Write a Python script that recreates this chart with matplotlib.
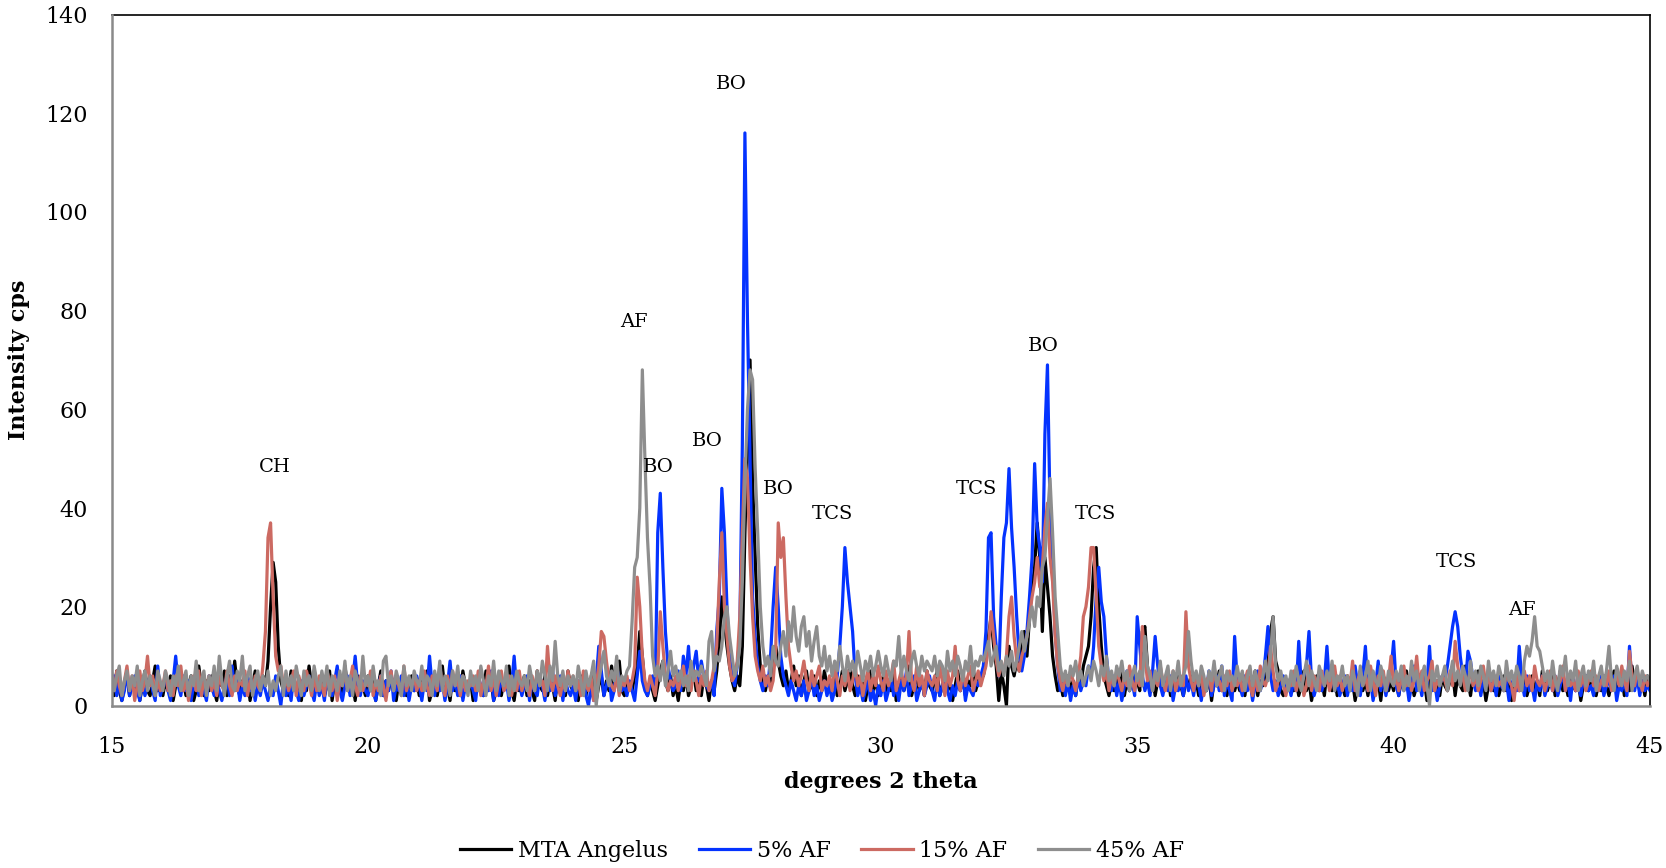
import numpy as np
import matplotlib
matplotlib.use("Agg")
import matplotlib.pyplot as plt

plt.rcParams['font.family'] = ['DejaVu Serif']

# ---------------- data ----------------
two_theta_start = 15.0
two_theta_step = 0.05
x_ticks = [15, 20, 25, 30, 35, 40, 45]
y_ticks = [0, 20, 40, 60, 80, 100, 120, 140]
series_names = ["MTA Angelus", "5% AF", "15% AF", "45% AF"]

# intensities (cps) at 0.05 deg steps, one row per degree (15.00 .. 44.95), plus final 45.00 value
mta_angelus = [
    [5,2,7,3,1,4,6,2,5,3,6,1,4,7,3,2,5,8,3,4],
    [2,5,3,6,1,4,7,3,5,2,4,6,1,3,8,4,2,5,3,6],
    [3,1,5,4,7,2,6,3,9,4,2,5,3,6,1,4,7,3,5,6],
    [4,9,20,29,25,12,5,3,6,2,7,4,3,5,1,6,3,8,4,2],
    [5,3,6,2,4,7,1,5,3,6,2,8,4,3,5,1,6,3,4,2],
    [6,3,5,1,4,7,2,5,3,6,4,1,5,3,7,2,4,6,3,5],
    [2,5,4,7,1,3,6,2,5,8,3,4,1,6,3,5,2,7,4,3],
    [5,1,4,6,3,2,7,4,5,1,3,6,2,5,4,8,3,1,5,3],
    [4,6,2,5,3,1,7,4,3,6,2,5,4,1,6,3,5,2,7,4],
    [3,5,1,6,4,2,5,3,7,1,4,6,2,5,3,8,4,6,9,3],
    [2,5,4,3,6,8,15,10,4,2,5,3,1,4,7,9,5,3,6,2],
    [4,1,5,3,6,2,4,7,3,5,2,6,4,1,5,3,7,13,22,17],
    [12,8,5,3,6,4,12,35,52,70,45,30,16,8,5,3,6,4,8,12],
    [9,6,4,7,3,5,8,4,6,2,5,7,3,4,6,2,5,3,7,4],
    [5,3,6,2,4,7,3,5,8,4,2,6,3,5,1,4,7,3,5,2],
    [4,6,2,5,3,7,1,4,6,3,5,8,2,4,6,3,5,2,7,4],
    [3,5,7,2,4,6,3,5,1,4,7,3,6,2,5,4,8,3,5,6],
    [6,9,14,18,12,8,1,7,4,0,12,8,6,9,7,12,15,10,18,24],
    [28,37,30,15,30,24,18,10,6,3,5,2,4,6,3,5,2,6,4,8],
    [10,12,18,28,32,20,12,6,4,2,5,3,6,4,7,2,5,3,6,4],
    [5,3,15,16,8,4,6,2,5,7,3,4,6,2,5,3,7,4,2,5],
    [4,6,3,5,2,7,4,3,6,1,5,4,7,3,5,2,6,4,3,5],
    [3,5,2,6,4,3,7,2,5,4,6,8,15,18,9,7,3,2,5,4],
    [6,3,5,2,4,7,3,5,1,4,6,3,5,2,7,4,3,6,2,5],
    [4,2,6,3,5,1,4,7,3,5,2,6,4,3,5,1,6,4,3,5],
    [3,6,2,5,4,7,3,5,2,4,6,3,5,1,4,7,3,5,2,6],
    [4,3,5,7,2,6,4,3,8,5,2,6,4,7,3,5,1,4,6,3],
    [5,2,4,6,3,5,1,4,7,3,5,6,2,4,6,3,5,2,7,4],
    [3,5,6,2,4,7,3,5,2,6,4,3,5,1,4,6,3,5,7,2],
    [5,3,6,4,2,5,7,3,4,6,2,5,3,8,4,6,3,5,2,6],
    [4],
]

af_5 = [
    [4,6,2,5,1,3,7,2,4,6,3,1,5,2,4,6,3,1,8,2],
    [4,6,3,1,5,10,4,2,6,3,5,1,4,7,2,5,3,1,6,4],
    [2,5,3,1,4,6,2,8,3,5,1,4,2,6,3,5,1,4,2,5],
    [3,1,4,2,6,3,0,5,2,4,1,6,3,1,5,2,4,6,3,1],
    [5,2,4,1,6,3,2,5,8,3,1,4,6,2,5,10,4,2,5,3],
    [2,5,3,1,4,6,2,5,3,7,1,4,3,6,2,5,1,4,3,6],
    [4,1,5,3,10,4,2,6,3,5,1,4,9,3,5,2,6,1,4,3],
    [5,3,1,6,4,2,5,3,7,1,4,2,6,3,5,1,4,10,3,5],
    [2,4,6,1,5,3,2,6,4,1,5,3,7,2,4,6,1,5,3,2],
    [4,1,5,3,6,2,0,4,1,5,12,7,2,4,6,1,3,8,5,3],
    [4,2,5,3,1,6,11,5,3,2,4,6,3,35,43,28,15,8,5,3],
    [4,7,3,10,6,12,4,8,11,5,9,6,4,3,5,2,15,22,44,35],
    [20,10,6,4,8,14,53,116,78,50,22,14,8,5,3,6,4,10,20,28],
    [20,10,6,4,2,5,3,1,4,2,5,1,3,6,2,4,1,3,5,2],
    [4,1,3,6,12,20,32,25,20,15,6,2,4,1,3,5,1,3,0,4],
    [2,5,1,3,6,2,4,1,5,3,7,2,4,6,1,3,5,2,4,6],
    [3,1,5,2,4,6,3,1,4,2,5,3,6,1,4,3,2,5,4,6],
    [8,15,34,35,18,12,6,22,34,37,48,36,28,18,10,7,10,15,22,30],
    [49,36,32,25,55,69,40,28,15,8,3,6,2,5,1,4,2,6,3,5],
    [4,8,6,12,22,28,21,18,10,5,3,6,2,5,1,4,7,3,5,2],
    [18,12,6,3,5,2,7,14,8,4,2,5,3,6,1,4,3,5,2,6],
    [3,5,2,6,4,1,5,3,7,2,4,6,3,8,2,5,3,1,14,5],
    [4,2,6,3,5,1,4,7,3,5,10,16,6,3,5,2,4,6,3,5],
    [2,5,3,13,4,6,8,15,5,2,4,6,3,5,12,4,7,3,5,2],
    [4,6,2,5,3,8,4,2,6,12,3,5,1,4,9,3,6,2,5,7],
    [13,4,2,6,3,5,1,4,8,3,5,2,6,4,12,3,5,1,4,6],
    [5,8,12,16,19,16,10,6,4,11,9,5,3,6,2,5,4,7,3,5],
    [2,6,4,3,5,1,4,6,3,12,5,2,6,3,4,1,5,3,6,2],
    [4,5,3,6,2,4,7,3,5,1,6,3,4,2,5,6,3,4,2,5],
    [3,6,2,4,5,3,6,1,4,3,5,2,12,4,3,6,2,5,3,4],
    [3],
]

af_15 = [
    [6,3,7,4,2,5,8,3,6,1,4,7,3,5,10,4,6,2,5,3],
    [4,7,3,5,2,6,4,8,3,5,1,4,6,3,7,2,5,4,6,3],
    [5,2,6,4,3,7,4,2,6,3,5,4,7,2,5,3,6,4,3,8],
    [15,34,37,22,10,7,8,4,6,3,5,7,2,6,4,3,7,5,2,6],
    [3,6,4,2,7,5,3,6,1,5,4,7,3,5,8,4,2,6,3,5],
    [4,7,2,5,3,6,4,1,5,7,3,6,4,2,8,3,5,4,6,3],
    [5,3,7,4,2,6,5,3,8,4,2,6,3,7,4,5,2,6,3,5],
    [4,6,3,7,2,5,4,8,3,6,2,5,7,3,4,6,2,5,3,7],
    [3,5,4,2,6,3,7,4,5,2,12,5,3,6,4,2,5,3,7,4],
    [6,3,5,2,7,4,3,6,1,4,8,15,14,9,5,4,3,6,2,5],
    [4,6,3,5,8,26,20,10,5,3,6,4,2,7,19,12,6,3,5,4],
    [6,3,5,8,4,6,3,7,5,2,6,4,7,3,5,8,12,25,35,20],
    [14,8,5,6,9,18,35,50,46,30,18,10,7,5,8,4,6,3,5,11],
    [37,30,34,22,12,8,5,7,4,6,9,5,3,7,4,6,8,3,5,4],
    [6,3,8,5,2,6,4,7,3,5,8,4,6,2,5,7,3,6,4,8],
    [5,3,7,4,6,9,3,5,7,4,6,15,5,3,8,4,6,2,7,5],
    [4,6,3,8,5,2,7,4,6,12,5,3,7,4,6,8,3,5,7,4],
    [6,8,12,19,14,9,6,8,7,10,18,22,14,9,7,10,12,14,18,22],
    [25,30,24,28,36,41,30,25,14,8,5,3,6,4,7,5,3,6,10,18],
    [20,24,32,32,22,12,8,5,7,3,6,4,7,5,3,6,4,8,5,3],
    [6,4,16,10,5,7,3,6,4,8,5,3,6,4,7,3,5,6,4,19],
    [8,5,3,6,4,7,2,5,6,3,8,4,5,3,6,4,7,3,5,4],
    [6,3,5,7,4,2,6,3,8,5,4,6,12,7,3,5,6,4,2,5],
    [4,7,3,5,6,2,4,8,3,6,5,3,7,4,6,3,5,8,4,6],
    [3,5,6,4,9,3,5,7,4,6,3,8,5,2,6,4,7,3,5,10],
    [4,6,3,5,8,4,6,3,5,10,4,7,3,5,6,9,3,5,4,6],
    [5,3,7,4,13,8,5,6,3,5,7,4,6,3,5,8,4,6,3,5],
    [6,4,5,3,7,5,4,1,6,3,5,7,4,6,3,8,5,4,6,3],
    [5,7,3,6,4,5,8,3,6,4,5,3,7,4,6,3,5,7,4,6],
    [3,5,6,4,7,3,5,6,4,8,5,3,11,6,4,7,5,3,6,4],
    [5],
]

af_45 = [
    [7,3,6,8,2,5,7,3,6,4,8,2,5,7,3,6,4,2,7,5],
    [3,7,5,2,6,4,8,3,5,7,2,6,4,9,3,5,7,2,6,4],
    [8,3,10,5,2,6,9,4,3,7,5,10,3,6,8,2,5,7,3,6],
    [4,7,2,5,3,6,8,2,7,4,6,3,8,5,2,7,4,6,3,8],
    [5,3,7,4,8,2,6,5,3,7,4,9,3,6,2,7,5,3,10,4],
    [6,3,8,4,5,2,9,10,4,6,3,7,5,2,8,4,6,3,7,5],
    [4,8,3,6,5,2,7,4,9,3,6,5,2,7,4,8,3,6,5,2],
    [7,4,6,3,8,5,2,6,4,9,3,7,5,4,8,2,6,3,7,5],
    [4,6,3,8,5,3,7,4,9,6,3,8,5,13,6,4,7,3,6,4],
    [6,3,8,5,2,7,4,6,9,0,5,8,11,6,4,7,5,10,3,6],
    [5,7,8,17,28,30,40,68,50,34,24,10,6,8,5,9,4,7,11,6],
    [8,5,7,4,6,3,9,5,7,6,8,6,4,13,15,7,10,9,12,18],
    [20,14,10,6,8,12,25,45,60,68,66,48,35,20,12,8,10,6,12,9],
    [8,12,15,10,17,13,20,14,11,16,18,12,15,9,13,16,10,8,12,7],
    [10,6,9,7,12,8,5,10,7,9,6,11,8,5,9,7,10,6,8,11],
    [8,6,10,7,5,9,8,14,6,10,7,5,9,11,8,6,10,7,9,8],
    [7,10,6,9,8,5,11,7,9,6,10,8,5,9,7,12,6,9,8,10],
    [9,11,13,8,10,12,7,9,6,10,8,11,7,9,12,15,11,14,17,20],
    [16,22,20,28,30,38,46,35,22,15,8,5,7,4,8,6,9,5,7,4],
    [6,8,5,9,7,4,8,6,10,5,7,4,8,6,9,5,7,3,6,8],
    [5,7,4,14,8,6,3,7,5,9,4,6,8,3,7,5,9,4,6,8],
    [15,9,5,7,4,8,6,3,7,5,9,4,6,8,3,7,5,6,4,8],
    [5,7,3,6,8,4,7,5,3,6,9,5,10,18,8,5,7,4,6,3],
    [7,4,8,5,3,6,9,4,7,5,3,8,6,4,7,5,9,3,6,5],
    [8,4,6,3,7,5,2,8,4,6,9,3,7,5,4,8,6,3,7,5],
    [4,7,5,8,3,6,4,9,5,7,3,6,8,4,0,7,5,8,4,6],
    [8,3,6,9,5,7,4,8,6,3,9,5,7,4,8,6,3,9,5,7],
    [4,8,6,3,9,5,7,4,8,6,3,9,12,10,13,18,12,11,8,5],
    [7,4,9,5,3,8,6,10,4,7,5,9,3,6,8,4,7,5,9,3],
    [6,8,4,7,12,5,3,8,6,4,7,5,9,3,6,8,4,7,5,6],
    [5],
]

# phase labels (text, 2theta, intensity position)
peak_labels = ["CH", "AF", "BO", "BO", "BO", "BO", "TCS", "TCS", "BO", "TCS", "TCS", "AF"]
peak_label_x = [18.19, 25.19, 25.67, 26.62, 27.08, 28.01, 29.05, 31.86, 33.17, 34.18, 41.23, 42.51]
peak_label_y = [48.4, 77.8, 48.4, 53.5, 126.0, 43.9, 38.7, 43.9, 72.9, 38.7, 29.0, 19.4]

colors = ["#000000", "#0433FF", "#CC6A62", "#8E8E8E"]

# ---------------- plot ----------------
W, H = 1666, 868
fig = plt.figure(figsize=(W / 100, H / 100), dpi=100)
ax = fig.add_axes([111.6 / W, 1 - 705.5 / H, (1650 - 111.6) / W, (705.5 - 14.5) / H])

all_series = [mta_angelus, af_5, af_15, af_45]
for rows, name, col in zip(all_series, series_names, colors):
    y = np.concatenate([np.asarray(r, dtype=float) for r in rows])
    x = two_theta_start + two_theta_step * np.arange(len(y))
    ax.plot(x, y, color=col, lw=2.3, label=name, solid_joinstyle="round")

for t, px, py in zip(peak_labels, peak_label_x, peak_label_y):
    ax.text(px, py, t, ha="center", va="center", fontsize=14, color="#000000")

ax.set_xlim(15, 45)
ax.set_ylim(0, 140)
ax.set_xticks(x_ticks)
ax.set_yticks(y_ticks)
ax.tick_params(axis="both", length=0, labelsize=16)
ax.tick_params(axis="x", pad=22)
ax.tick_params(axis="y", pad=17)

for s in ["top", "right"]:
    ax.spines[s].set_color("#000000")
    ax.spines[s].set_linewidth(1.2)
for s in ["left", "bottom"]:
    ax.spines[s].set_color("#8A8A8A")
    ax.spines[s].set_linewidth(1.8)
    ax.spines[s].set_zorder(5)

fig.text(19 / W, 1 - 360 / H, "Intensity cps", rotation=90, ha="center", va="center",
         fontsize=16, fontweight="bold")
fig.text(881 / W, 1 - 782 / H, "degrees 2 theta", ha="center", va="center",
         fontsize=16, fontweight="bold")

fig.legend(loc="center", bbox_to_anchor=(822 / W, 1 - 851 / H), ncol=4, frameon=False,
           fontsize=16, handlelength=2.3, handletextpad=0.3, columnspacing=1.4)

fig.savefig("out.png", dpi=100)
